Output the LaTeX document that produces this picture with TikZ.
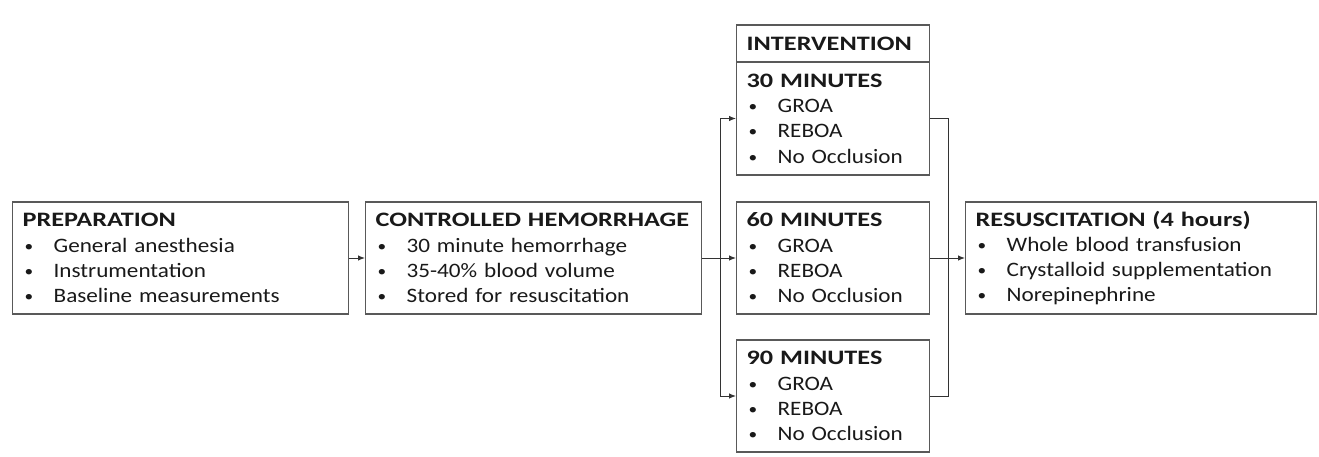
\documentclass[tikz,border=0pt]{standalone}
\usepackage{fontspec}
\setmainfont{Carlito}[FakeStretch=1.13, BoldFeatures={FakeStretch=1.28}]
\usetikzlibrary{arrows.meta}
\newcommand{\itm}[1]{\makebox[31pt][l]{\hspace{2pt}\raisebox{1pt}{\scalebox{0.75}{\textbullet}}}#1}
\tikzset{
    stagebox/.style={draw=black!65, line width=1.3pt, rectangle, anchor=west, minimum height=112pt,
        inner xsep=10pt, inner ysep=0pt, align=left, text=black!90, font=\fontsize{20.5}{25.3}\selectfont},
    link/.style={draw=black!80, line width=1pt},
    arr/.style={link, -{Latex[length=7pt,width=5.5pt]}}
}
\begin{document}
\begin{tikzpicture}[x=1pt,y=-1pt]
        	\useasboundingbox (0,0) rectangle (1319,456);
            \node[stagebox, text width=316pt] (prep) at (12,258) {\textbf{PREPARATION}\\\itm{General anesthesia}\\\itm{Instrumentation}\\\itm{Baseline measurements}};
            \node[stagebox, text width=316pt] (hem) at (365,258) {\textbf{CONTROLLED HEMORRHAGE}\\\itm{30 minute hemorrhage}\\\itm{35-40\% blood volume}\\\itm{Stored for resuscitation}};
            \node[stagebox, text width=173pt, minimum height=37pt] (intv) at (736,43.5) {\textbf{INTERVENTION}};
            \node[stagebox, text width=173pt, minimum height=113pt] (m30) at (736,118.5) {\textbf{30 MINUTES}\\\itm{GROA}\\\itm{REBOA}\\\itm{No Occlusion}};
            \node[stagebox, text width=173pt] (m60) at (736,258) {\textbf{60 MINUTES}\\\itm{GROA}\\\itm{REBOA}\\\itm{No Occlusion}};
            \node[stagebox, text width=173pt] (m90) at (736,396) {\textbf{90 MINUTES}\\\itm{GROA}\\\itm{REBOA}\\\itm{No Occlusion}};
            \node[stagebox, text width=331pt] (resus) at (965,258) {\textbf{RESUSCITATION (4 hours)}\\\itm{Whole blood transfusion}\\\itm{Crystalloid supplementation}\\\itm{Norepinephrine}};
            \coordinate (split) at (720,258);
            \coordinate (merge) at (948,258);
            \draw[arr] (prep) -- (hem);
            \draw[link] (hem) -- (split);
            \draw[arr] (split) |- (m30.west);
            \draw[arr] (split) -- (m60);
            \draw[arr] (split) |- (m90.west);
            \draw[link] (m30.east) -| (merge);
            \draw[link] (m60) -- (merge);
            \draw[link] (m90.east) -| (merge);
            \draw[arr] (merge) -- (resus);
\end{tikzpicture}
\end{document}
